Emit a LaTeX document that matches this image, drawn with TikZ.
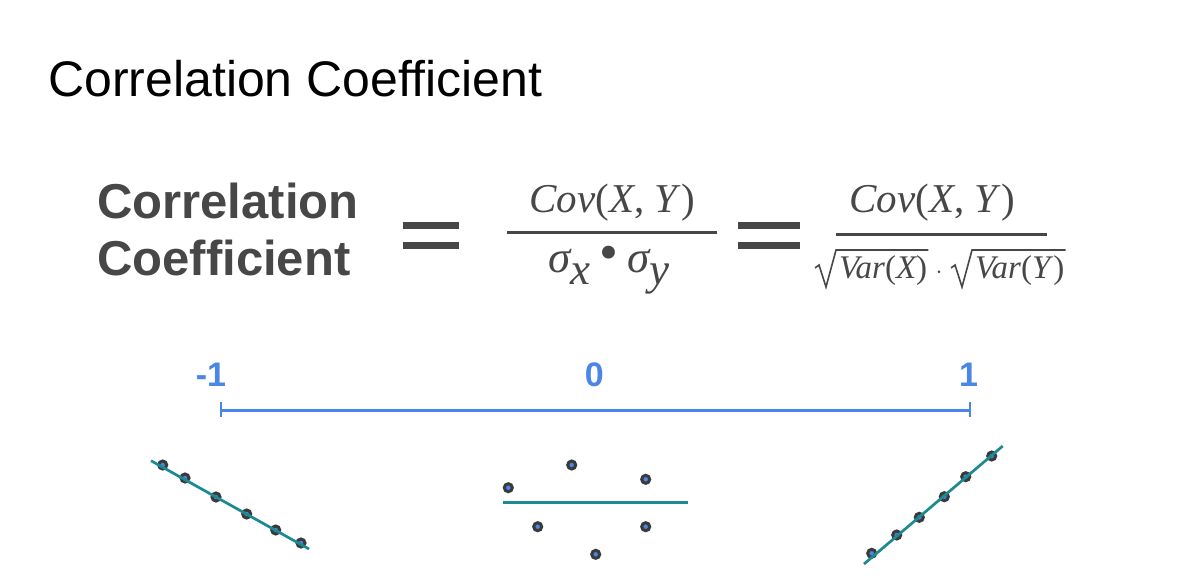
\documentclass[tikz,border=0pt]{standalone}
\usepackage{graphicx}
\usepackage{fontspec}
\usetikzlibrary{calc}
\setmainfont{Liberation Serif}
\newfontfamily\sansf{Liberation Sans}
\definecolor{txtgray}{HTML}{474747}
\definecolor{nlblue}{HTML}{4A86E8}
\definecolor{tealline}{HTML}{1B8A93}
\definecolor{dotring}{HTML}{3A3A3A}
\tikzset{
  lbl/.style={inner sep=0pt, anchor=base},
  boldtxt/.style={inner sep=0pt, anchor=base west, text=txtgray, font=\sansf\bfseries\fontsize{49}{56}\selectfont},
  mathtxt/.style={inner sep=0pt, anchor=base, text=txtgray},
  smallmath/.style={inner sep=0pt, anchor=base west, text=txtgray, font=\fontsize{33}{40}\selectfont},
  radical/.style={draw=txtgray, line width=1.6pt, line join=miter},
  numlbl/.style={inner sep=0pt, anchor=base, text=nlblue, font=\sansf\bfseries\fontsize{34}{40}\selectfont},
  eqbar/.style={fill=txtgray},
  fracrule/.style={draw=txtgray, line width=3pt},
  numline/.style={draw=nlblue, line width=2.5pt},
  ticklinestyle/.style={draw=nlblue, line width=2pt},
  dot/.style={circle, fill=nlblue, draw=dotring, line width=3pt, minimum size=8pt, inner sep=0pt},
  fitline/.style={draw=tealline, line width=2.7pt}
}
\begin{document}
\begin{tikzpicture}[x=1pt,y=-1pt]
\useasboundingbox[fill=white] (0,0) rectangle (1190,587);
% title
\node[lbl, anchor=base west, font=\sansf\fontsize{50}{58}\selectfont] (title) at (48,96) {Correlation Coefficient};
% left words
\node[boldtxt] (corr) at (97,218) {Correlation};
\node[boldtxt] (coef) at (97,275) {Coefficient};
% first equals
\fill[eqbar] (403,222) rectangle (459,229);
\fill[eqbar] (403,242) rectangle (459,249);
% fraction 1
\node[mathtxt, font=\fontsize{41}{48}\selectfont] (num1) at (612,212) {\itshape Cov\/\upshape(\itshape X\upshape, \itshape Y\/\upshape)};
\coordinate (r1a) at (507,232);
\coordinate (r1b) at (717,232);
\draw[fracrule] (r1a) -- (r1b);
\node[mathtxt, font=\fontsize{45}{50}\selectfont\itshape] (den1) at (609,272) {σ\raisebox{-0.28em}{x}\hspace{0.2em}\upshape\raisebox{0.03em}{\scalebox{1.2}{•}}\hspace{0.2em}\itshape σ\raisebox{-0.28em}{y}};
% second equals
\fill[eqbar] (738,222) rectangle (800,229);
\fill[eqbar] (738,242) rectangle (800,249);
% fraction 2
\node[mathtxt, font=\fontsize{41}{48}\selectfont] (num2) at (932,212) {\itshape Cov\/\upshape(\itshape X\upshape, \itshape Y\/\upshape)};
\coordinate (r2a) at (836,234);
\coordinate (r2b) at (1047,234);
\draw[fracrule] (r2a) -- (r2b);
% denominator 2: sqrt(Var(X)) . sqrt(Var(Y))
\node[smallmath] (vx) at (839,278) {\itshape Var\upshape(\itshape X\upshape)};
\node[smallmath, anchor=base] (cd) at (939,278) {$\cdot$};
\node[smallmath] (vy) at (975,278) {\itshape Var\upshape(\itshape Y\/\upshape)};
\draw[radical] ($(vx.base west)+(-24,-10)$) -- ($(vx.base west)+(-20,-13)$) -- ($(vx.base west)+(-13,9)$) -- ($(vx.base west)+(-3,-28)$) -- ($(vx.base east)+(1,-28)$);
\draw[radical] ($(vy.base west)+(-24,-10)$) -- ($(vy.base west)+(-20,-13)$) -- ($(vy.base west)+(-13,9)$) -- ($(vy.base west)+(-3,-28)$) -- ($(vy.base east)+(1,-28)$);
% number line
\coordinate (nl) at (220.7,410.5);
\coordinate (nr) at (970,410.5);
\draw[numline] (nl) -- (nr);
\coordinate (tl1) at (220.7,402);
\coordinate (tl2) at (220.7,417);
\coordinate (tr1) at (970,402);
\coordinate (tr2) at (970,417);
\draw[ticklinestyle] (tl1) -- (tl2);
\draw[ticklinestyle] (tr1) -- (tr2);
\node[numlbl] (m1) at (211,386) {-1};
\node[numlbl] (z0) at (594.3,386) {0};
\node[numlbl] (p1) at (968.5,386) {1};
% left scatter
\node[dot] (a1) at (162.7,465) {};
\node[dot] (a2) at (185,478) {};
\node[dot] (a3) at (216,497) {};
\node[dot] (a4) at (246.7,514) {};
\node[dot] (a5) at (275.7,530) {};
\node[dot] (a6) at (301,543) {};
\coordinate (la) at (151,460.7);
\coordinate (lb) at (309,549);
\draw[fitline] (la) -- (lb);
% middle scatter
\coordinate (ma) at (503.3,502.7);
\coordinate (mb) at (688.3,502.7);
\draw[fitline] (ma) -- (mb);
\node[dot] (b1) at (508.3,487.7) {};
\node[dot] (b2) at (571.7,465) {};
\node[dot] (b3) at (645.7,479.3) {};
\node[dot] (b4) at (537.7,526.7) {};
\node[dot] (b5) at (645.7,526.7) {};
\node[dot] (b6) at (595.7,554.3) {};
% right scatter
\node[dot] (c1) at (871.7,553.3) {};
\node[dot] (c2) at (896.7,535) {};
\node[dot] (c3) at (919.3,517.3) {};
\node[dot] (c4) at (944.3,496.7) {};
\node[dot] (c5) at (965.7,476.7) {};
\node[dot] (c6) at (991.7,456) {};
\coordinate (ra) at (864,564);
\coordinate (rb) at (1002.7,446);
\draw[fitline] (ra) -- (rb);
\end{tikzpicture}
\end{document}
